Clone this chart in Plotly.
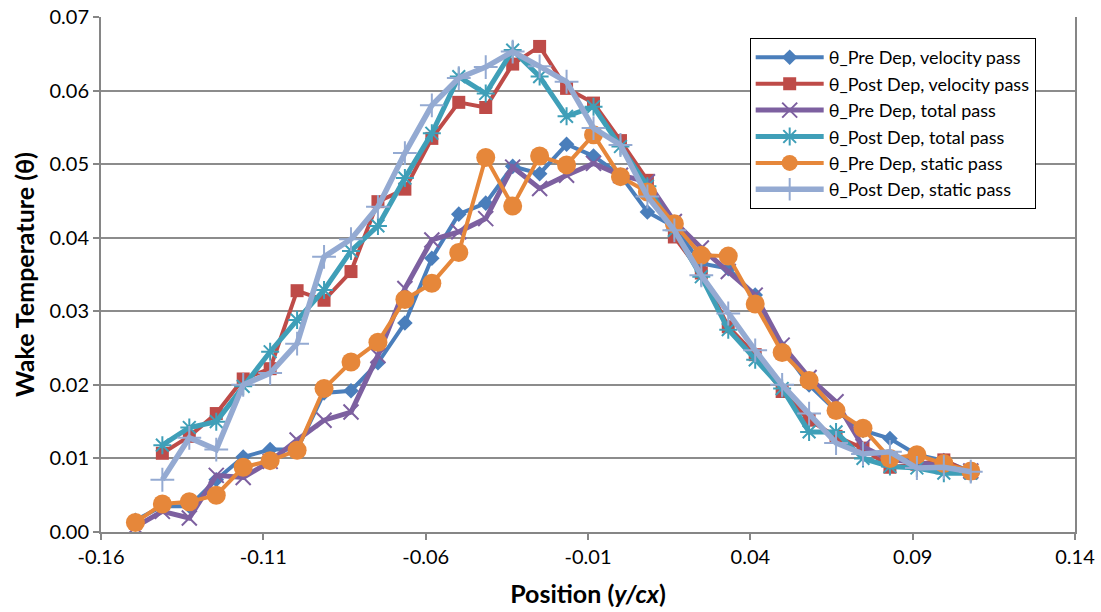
import plotly.graph_objects as go

# Measurement positions across the wake (y/cx)
position = [-0.1494, -0.1411, -0.1328, -0.1245, -0.1162, -0.1079, -0.0996, -0.0913,
            -0.0830, -0.0747, -0.0664, -0.0581, -0.0498, -0.0415, -0.0332, -0.0249,
            -0.0166, -0.0083, 0.0000, 0.0083, 0.0166, 0.0249, 0.0332, 0.0415,
            0.0498, 0.0581, 0.0664, 0.0747, 0.0830, 0.0913, 0.0996, 0.1079]

pre_velocity = [0.0016, 0.0035, 0.0035, 0.0071, 0.0102, 0.0112, 0.0112, 0.0189,
                0.0192, 0.0230, 0.0284, 0.0372, 0.0432, 0.0447, 0.0497, 0.0487,
                0.0527, 0.0511, 0.0485, 0.0435, 0.0415, 0.0365, 0.0358, 0.0322,
                0.0250, 0.0200, 0.0165, 0.0138, 0.0127, 0.0105, 0.0097, 0.0082]

post_velocity = [None, 0.0107, 0.0130, 0.0161, 0.0208, 0.0222, 0.0328, 0.0315,
                 0.0354, 0.0449, 0.0466, 0.0535, 0.0584, 0.0577, 0.0636, 0.0660,
                 0.0603, 0.0583, 0.0532, 0.0478, 0.0401, 0.0352, 0.0279, 0.0241,
                 0.0191, 0.0152, 0.0130, 0.0114, 0.0088, 0.0092, 0.0098, 0.0080]

pre_total = [0.0007, 0.0028, 0.0019, 0.0077, 0.0074, 0.0096, 0.0125, 0.0152,
             0.0163, 0.0240, 0.0331, 0.0397, 0.0408, 0.0426, 0.0496, 0.0467,
             0.0485, 0.0501, 0.0485, 0.0476, 0.0422, 0.0386, 0.0354, 0.0322,
             0.0254, 0.0210, 0.0177, 0.0116, 0.0098, 0.0095, 0.0089, 0.0083]

post_total = [None, 0.0118, 0.0142, 0.0150, 0.0198, 0.0245, 0.0288, 0.0329,
              0.0382, 0.0416, 0.0481, 0.0542, 0.0619, 0.0596, 0.0655, 0.0619,
              0.0565, 0.0578, 0.0524, 0.0470, 0.0410, 0.0347, 0.0275, 0.0234,
              0.0195, 0.0136, 0.0136, 0.0100, 0.0089, 0.0087, 0.0080, 0.0080]

pre_static = [0.0013, 0.0038, 0.0041, 0.0050, 0.0088, 0.0097, 0.0111, 0.0195,
              0.0231, 0.0258, 0.0316, 0.0338, 0.0380, 0.0509, 0.0443, 0.0511,
              0.0499, 0.0540, 0.0483, 0.0462, 0.0419, 0.0376, 0.0375, 0.0310,
              0.0244, 0.0206, 0.0165, 0.0141, 0.0100, 0.0105, 0.0093, 0.0083]

post_static = [None, 0.0071, 0.0128, 0.0112, 0.0200, 0.0216, 0.0256, 0.0374,
               0.0398, 0.0442, 0.0515, 0.0580, 0.0617, 0.0632, 0.0653, 0.0633,
               0.0612, 0.0549, 0.0526, 0.0456, 0.0410, 0.0349, 0.0297, 0.0247,
               0.0200, 0.0161, 0.0121, 0.0106, 0.0109, 0.0087, 0.0088, 0.0082]

series_names = ["θ_Pre Dep, velocity pass", "θ_Post Dep, velocity pass",
                "θ_Pre Dep, total pass", "θ_Post Dep, total pass",
                "θ_Pre Dep, static pass", "θ_Post Dep, static pass"]

x_tick_vals = [-0.16, -0.11, -0.06, -0.01, 0.04, 0.09, 0.14]
x_tick_text = ["-0.16", "-0.11", "-0.06", "-0.01", "0.04", "0.09", "0.14"]
y_tick_vals = [0.00, 0.01, 0.02, 0.03, 0.04, 0.05, 0.06, 0.07]
y_tick_text = ["0.00", "0.01", "0.02", "0.03", "0.04", "0.05", "0.06", "0.07"]

styles = [
    dict(color="#4A7EBB", width=4, symbol="diamond", size=12, mline=0),
    dict(color="#BE4B48", width=4, symbol="square", size=13, mline=0),
    dict(color="#7D60A0", width=5, symbol="x-thin", size=15, mline=2),
    dict(color="#3F9FB8", width=5, symbol="asterisk", size=15, mline=2),
    dict(color="#E6873A", width=4, symbol="circle", size=19, mline=0),
    dict(color="#94AAD2", width=5.5, symbol="cross-thin", size=17, mline=2),
]

data = [pre_velocity, post_velocity, pre_total, post_total, pre_static, post_static]

fig = go.Figure()
for name, ys, st in zip(series_names, data, styles):
    fig.add_trace(go.Scatter(
        x=position, y=ys, name=name, mode="lines+markers",
        line=dict(color=st["color"], width=st["width"]),
        marker=dict(symbol=st["symbol"], size=st["size"], color=st["color"],
                    line=dict(color=st["color"], width=st["mline"])),
        connectgaps=False,
    ))

font_family = "Lato, Calibri, sans-serif"
axis_font = dict(family=font_family, size=20, color="#000000")
title_font = dict(family=font_family, size=25, color="#000000")

fig.update_layout(
    width=1101, height=612,
    margin=dict(l=101, r=26, t=17, b=80),
    paper_bgcolor="white", plot_bgcolor="white",
    font=dict(family=font_family, color="#000000"),
    showlegend=True,
    legend=dict(
        x=0.666, y=0.959, xanchor="left", yanchor="top",
        bgcolor="white", bordercolor="#000000", borderwidth=1,
        font=dict(family=font_family, size=18, color="#000000"),
        tracegroupgap=0, itemwidth=68,
    ),
    xaxis=dict(
        range=[-0.16, 0.14], tickvals=x_tick_vals, ticktext=x_tick_text,
        automargin=False,
        showgrid=False, zeroline=False, showline=True, linecolor="#868686", linewidth=2,
        ticks="outside", ticklen=6, tickcolor="#868686", tickwidth=1.5,
        tickfont=axis_font,
        title=dict(text="<b>Position (<i>y/cx</i>)</b>", font=title_font, standoff=18),
    ),
    yaxis=dict(
        range=[0, 0.07], tickvals=y_tick_vals, ticktext=y_tick_text,
        automargin=False,
        showgrid=True, gridcolor="#8C8C8C", gridwidth=2, zeroline=False,
        showline=True, linecolor="#868686", linewidth=2, mirror=True,
        ticks="outside", ticklen=6, tickcolor="#868686", tickwidth=1.5,
        tickfont=axis_font,
        title=dict(text="<b>Wake Temperature (θ)</b>", font=title_font, standoff=8),
    ),
)

fig.write_html("out.html")
